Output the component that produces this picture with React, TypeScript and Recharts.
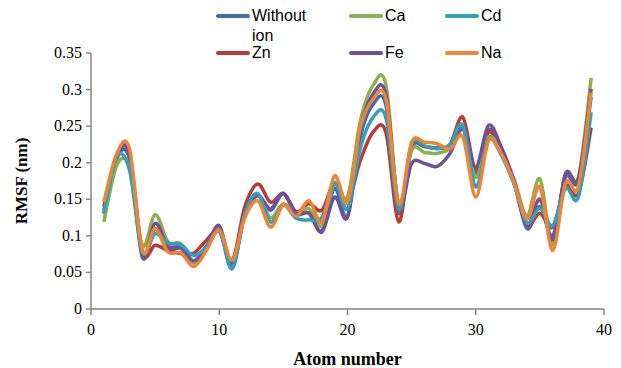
import React from "react";
import { LineChart, Line, XAxis, YAxis } from "recharts";

const atoms = [
  1, 2, 3, 4, 5, 6, 7, 8, 9, 10, 11, 12, 13, 14, 15, 16, 17, 18, 19, 20, 21,
  22, 23, 24, 25, 26, 27, 28, 29, 30, 31, 32, 33, 34, 35, 36, 37, 38, 39,
];

const withoutIon = [
  0.13, 0.205, 0.205, 0.071, 0.11, 0.082, 0.083, 0.064, 0.085, 0.11, 0.055,
  0.13, 0.155, 0.135, 0.158, 0.13, 0.131, 0.107, 0.165, 0.126, 0.235, 0.28,
  0.278, 0.131, 0.22, 0.222, 0.22, 0.222, 0.248, 0.185, 0.245, 0.215, 0.172,
  0.11, 0.14, 0.1, 0.18, 0.175, 0.29,
];
const ca = [
  0.119, 0.196, 0.194, 0.087, 0.129, 0.092, 0.089, 0.063, 0.085, 0.11, 0.06,
  0.13, 0.155, 0.125, 0.144, 0.131, 0.137, 0.114, 0.172, 0.153, 0.257, 0.306,
  0.306, 0.14, 0.217, 0.214, 0.213, 0.22, 0.248, 0.18, 0.235, 0.214, 0.176,
  0.128, 0.178, 0.088, 0.185, 0.18, 0.316,
];
const cd = [
  0.131, 0.208, 0.19, 0.078, 0.103, 0.09, 0.088, 0.073, 0.085, 0.106, 0.056,
  0.13, 0.158, 0.119, 0.142, 0.124, 0.122, 0.125, 0.172, 0.137, 0.22, 0.262,
  0.261, 0.136, 0.226, 0.223, 0.219, 0.225, 0.251, 0.167, 0.232, 0.21, 0.17,
  0.118, 0.138, 0.114, 0.165, 0.153, 0.269,
];
const zn = [
  0.14, 0.208, 0.213, 0.078, 0.087, 0.08, 0.076, 0.076, 0.094, 0.107, 0.066,
  0.14, 0.171, 0.146, 0.158, 0.133, 0.144, 0.135, 0.173, 0.146, 0.203, 0.242,
  0.241, 0.119, 0.225, 0.222, 0.22, 0.225, 0.262, 0.19, 0.242, 0.215, 0.172,
  0.115, 0.131, 0.112, 0.168, 0.158, 0.248,
];
const fe = [
  0.135, 0.21, 0.211, 0.075, 0.117, 0.086, 0.085, 0.066, 0.085, 0.114, 0.06,
  0.13, 0.155, 0.137, 0.158, 0.131, 0.131, 0.105, 0.153, 0.126, 0.245, 0.294,
  0.293, 0.14, 0.199, 0.199, 0.195, 0.213, 0.246, 0.194, 0.251, 0.221, 0.175,
  0.115, 0.15, 0.095, 0.185, 0.178, 0.301,
];
const na = [
  0.146, 0.212, 0.219, 0.08, 0.11, 0.078, 0.077, 0.058, 0.08, 0.108, 0.067,
  0.125, 0.148, 0.112, 0.142, 0.127, 0.148, 0.119, 0.182, 0.146, 0.248, 0.287,
  0.287, 0.144, 0.228, 0.228, 0.226, 0.219, 0.235, 0.153, 0.23, 0.212, 0.172,
  0.123, 0.167, 0.08, 0.172, 0.167, 0.296,
];

const xTicks = [0, 10, 20, 30, 40];
const yTicks = [0, 0.05, 0.1, 0.15, 0.2, 0.25, 0.3, 0.35];

// drawing order = excel series order (orange ends up on top)
const series = [
  { key: "without", name: "Without ion", color: "#3e6db5", values: withoutIon },
  { key: "zn", name: "Zn", color: "#b83b36", values: zn },
  { key: "ca", name: "Ca", color: "#8cb04b", values: ca },
  { key: "fe", name: "Fe", color: "#71509a", values: fe },
  { key: "cd", name: "Cd", color: "#31a0be", values: cd },
  { key: "na", name: "Na", color: "#ec8535", values: na },
];

const data = atoms.map((atom, i) => {
  const row: Record<string, number> = { atom };
  series.forEach((s) => {
    row[s.key] = s.values[i];
  });
  return row;
});

// excel-like smoothed line (catmull-rom through every point)
const excelCurve = (context: any) => {
  let pts: number[][] = [];
  return {
    areaStart() {},
    areaEnd() {},
    lineStart() {
      pts = [];
    },
    point(x: number, y: number) {
      pts.push([+x, +y]);
    },
    lineEnd() {
      if (!pts.length) return;
      context.moveTo(pts[0][0], pts[0][1]);
      for (let i = 0; i < pts.length - 1; i++) {
        const p0 = pts[i - 1] || pts[i];
        const p1 = pts[i];
        const p2 = pts[i + 1];
        const p3 = pts[i + 2] || p2;
        context.bezierCurveTo(
          p1[0] + (p2[0] - p0[0]) / 6,
          p1[1] + (p2[1] - p0[1]) / 6,
          p2[0] - (p3[0] - p1[0]) / 6,
          p2[1] - (p3[1] - p1[1]) / 6,
          p2[0],
          p2[1]
        );
      }
    },
  };
};

const serif = "'Liberation Serif', 'Times New Roman', serif";

// legend: 3 columns, filled column by column like the excel original
const legendCols = [216, 349, 445];
const legendRows = [16, 53];

const ChartLegend = () => (
  <>
    {series.map((s, i) => {
      const left = legendCols[Math.floor(i / 2)];
      const top = legendRows[i % 2];
      return (
        <div
          key={s.key}
          style={{
            position: "absolute",
            left,
            top: top - 10,
            display: "flex",
            alignItems: "flex-start",
            fontFamily: "'Liberation Sans', Arial, sans-serif",
            fontSize: 16,
            lineHeight: "20px",
            color: "#000",
          }}
        >
          <div
            style={{
              width: 34,
              height: 4,
              marginTop: 8,
              marginRight: 2,
              borderRadius: 2,
              background: s.color,
            }}
          />
          <div style={{ width: 60 }}>
            {s.name === "Without ion" ? (
              <>
                Without
                <br />
                ion
              </>
            ) : (
              s.name
            )}
          </div>
        </div>
      );
    })}
  </>
);

const tickStyle = { fontFamily: serif, fontSize: 16, fill: "#000" };

const XTick = (props: any) => {
  const { x, y, payload } = props;
  return (
    <text x={x} y={y + 15} textAnchor="middle" style={tickStyle}>
      {payload.value}
    </text>
  );
};

const YTick = (props: any) => {
  const { x, y, payload } = props;
  return (
    <text x={x} y={y + 5} textAnchor="end" style={tickStyle}>
      {String(payload.value)}
    </text>
  );
};

export default function App() {
  return (
    <div
      style={{
        position: "absolute",
        left: 0,
        top: 0,
        width: 621,
        height: 368,
        background: "#fff",
      }}
    >
      <LineChart
        width={621}
        height={368}
        data={data}
        margin={{ top: 53, right: 17, bottom: 0, left: 0 }}
        style={{ fontFamily: serif }}
      >
        <XAxis
          dataKey="atom"
          type="number"
          domain={[0, 40]}
          ticks={xTicks}
          stroke="#868686"
          strokeWidth={1.5}
          tickSize={6}
          tickMargin={5}
          tick={<XTick />}
          height={59}
          label={{
            value: "Atom number",
            position: "insideBottom",
            offset: 3,
            style: {
              fill: "#000",
              fontSize: 18,
              fontWeight: 700,
              fontFamily: serif,
            },
          }}
        />
        <YAxis
          type="number"
          domain={[0, 0.35]}
          ticks={yTicks}
          stroke="#868686"
          strokeWidth={1.5}
          tickSize={5}
          tickMargin={4}
          tick={<YTick />}
          width={91}
          label={{
            value: "RMSF (nm)",
            angle: -90,
            position: "center",
            dx: -25,
            style: {
              fill: "#000",
              fontSize: 17,
              fontWeight: 700,
              fontFamily: serif,
            },
          }}
        />
        {series.map((s) => (
          <Line
            key={s.key}
            dataKey={s.key}
            name={s.name}
            type={excelCurve as any}
            stroke={s.color}
            strokeWidth={3.5}
            dot={false}
            activeDot={false}
            isAnimationActive={false}
          />
        ))}
      </LineChart>
      <ChartLegend />
    </div>
  );
}
